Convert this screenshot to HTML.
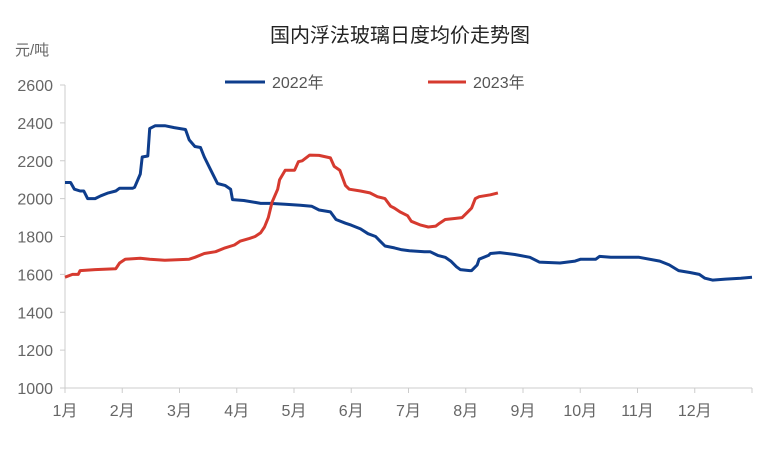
<!DOCTYPE html>
<html><head><meta charset="utf-8"><style>
body{margin:0;background:#fff;font-family:"Liberation Sans","Noto Sans CJK SC",sans-serif}
</style></head><body>
<svg width="766" height="451" id="c" xmlns="http://www.w3.org/2000/svg" style="font-family:'Liberation Sans','Noto Sans CJK SC',sans-serif">
<text x="400" y="42" text-anchor="middle" font-size="20" fill="#222">国内浮法玻璃日度均价走势图</text>
<text x="15" y="55" font-size="15" fill="#666">元/吨</text>
<g>
<line x1="225" y1="82" x2="265" y2="82" stroke="#0e3d8c" stroke-width="3"/>
<text x="272" y="88" font-size="16" fill="#555">2022年</text>
<line x1="428" y1="82" x2="466" y2="82" stroke="#d63a2f" stroke-width="3"/>
<text x="473" y="88" font-size="16" fill="#555">2023年</text>
</g>
<g id="axes"></g><g id="series"></g>
</svg>
<script>
const yTicks=[1000,1200,1400,1600,1800,2000,2200,2400,2600];
const months=["1月","2月","3月","4月","5月","6月","7月","8月","9月","10月","11月","12月"];
const days2022=[0,3,5,8,10,12,16,19,23,27,29,36,37,40,41,44,45,48,53,58,64,66,69,72,74,77,79,81,85,88,89,95,101,104,109,117,125,131,135,141,144,149,152,157,161,165,167,170,175,179,183,191,194,198,202,205,208,210,215,216,219,220,225,226,231,239,247,252,263,271,274,282,284,290,305,316,321,326,332,337,340,344,351,359,365];
const values2022=[2085,2085,2050,2040,2040,2000,2000,2015,2030,2040,2055,2055,2060,2130,2220,2225,2370,2385,2385,2375,2365,2310,2275,2270,2220,2160,2120,2080,2070,2050,1995,1990,1980,1975,1975,1970,1965,1960,1940,1930,1890,1870,1860,1840,1815,1800,1780,1750,1740,1730,1725,1720,1720,1700,1690,1670,1640,1625,1620,1620,1650,1680,1700,1710,1715,1705,1690,1665,1660,1670,1680,1680,1695,1690,1690,1670,1650,1620,1610,1600,1580,1570,1575,1580,1585];
const days2023=[0,4,7,8,16,27,29,32,40,45,53,66,69,74,80,85,90,93,98,101,104,106,108,110,113,114,117,122,124,126,130,135,141,143,146,149,151,157,162,166,170,173,175,178,182,184,189,193,197,199,202,207,211,214,216,218,220,226,230];
const values2023=[1585,1600,1600,1620,1625,1630,1660,1680,1685,1680,1675,1680,1690,1710,1720,1740,1755,1775,1790,1800,1820,1850,1900,1980,2050,2100,2150,2150,2195,2200,2230,2228,2215,2170,2150,2070,2050,2040,2030,2010,2000,1960,1950,1930,1910,1880,1860,1850,1855,1870,1890,1895,1900,1930,1950,2000,2010,2020,2030];
const X0=65,X1=752,Y0=388,Y1=85;
const xS=d=>X0+d/365*(X1-X0);
const yS=v=>Y0-(v-1000)/1600*(Y0-Y1);
const NS="http://www.w3.org/2000/svg";
const ax=document.getElementById('axes'),se=document.getElementById('series');
function mk(t,a,p){const e=document.createElementNS(NS,t);for(const k in a)e.setAttribute(k,a[k]);p.appendChild(e);return e;}
const yl=mk('line',{x1:X0,y1:Y1,x2:X0,y2:Y0,stroke:'#ccc'},ax);


const xl=mk('line',{x1:X0,y1:Y0,x2:X1,y2:Y0,stroke:'#ccc'},ax);


yTicks.forEach(v=>{
 const t=mk('line',{x1:X0-5,y1:yS(v),x2:X0,y2:yS(v),stroke:'#ccc'},ax);
 
 
 const l=mk('text',{x:53,y:yS(v)+6,'text-anchor':'end','font-size':16,fill:'#666'},ax);
 l.textContent=v;
 
 
});
for(let i=0;i<=12;i++){
 const x=X0+i*(X1-X0)/12;
 const t=mk('line',{x1:x,y1:Y0,x2:x,y2:Y0+5,stroke:'#ccc'},ax);
 
 
 if(i<12){const l=mk('text',{x:x,y:416,'text-anchor':'middle','font-size':16,fill:'#666'},ax);
 l.textContent=months[i];
 
 }
}
function line(ds,vs,c,n){
 const p=mk('polyline',{points:ds.map((d,i)=>xS(d).toFixed(1)+','+yS(vs[i]).toFixed(1)).join(' '),fill:'none',stroke:c,'stroke-width':3,'stroke-linejoin':'round'},se);
 
 
}
line(days2022,values2022,'#0e3d8c','series-2022');
line(days2023,values2023,'#d63a2f','series-2023');
</script>
</body></html>
